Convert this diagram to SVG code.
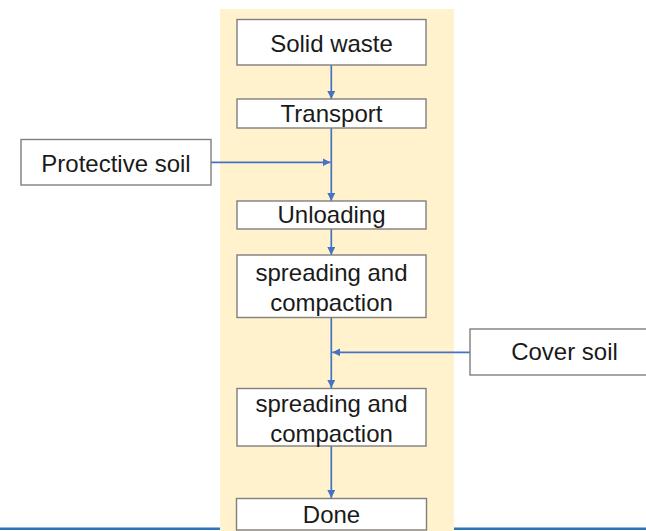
<svg xmlns="http://www.w3.org/2000/svg" width="646" height="531" viewBox="0 0 646 531">
<style>
.box{fill:#ffffff;stroke:#7f7f7f;stroke-width:1.4}
.t{font-family:"Liberation Sans",Arial,sans-serif;font-size:24px;fill:#1a1a1a;text-anchor:middle}
.c{stroke:#4472c4;stroke-width:1.7;fill:none;marker-end:url(#ah)}
</style>
<defs>
<marker id="ah" viewBox="0 0 10 10" refX="10" refY="5" markerWidth="8" markerHeight="8" markerUnits="userSpaceOnUse" orient="auto">
<path d="M0,0 L10,5 L0,10 Z" fill="#4472c4"/>
</marker>
</defs>
<rect x="0" y="527.5" width="646" height="2.5" fill="#2e75b6"/>
<rect x="220" y="9" width="234" height="522" fill="#fff2cc"/>
<g id="connectors">
<line class="c" x1="331.3" y1="65" x2="331.3" y2="99"/>
<line class="c" x1="331.3" y1="128" x2="331.3" y2="201"/>
<line class="c" x1="211" y1="162.3" x2="330.5" y2="162.3"/>
<line class="c" x1="331.3" y1="229" x2="331.3" y2="255"/>
<line class="c" x1="331.3" y1="317.5" x2="331.3" y2="388"/>
<line class="c" x1="470" y1="352.3" x2="332.3" y2="352.3"/>
<line class="c" x1="331.3" y1="446" x2="331.3" y2="498"/>
</g>
<g id="solid-waste"><rect class="box" x="237" y="19.5" width="189" height="45.5"/><text class="t" x="331.5" y="52">Solid waste</text></g>
<g id="transport"><rect class="box" x="237" y="99" width="189" height="29"/><text class="t" x="331.5" y="121.5">Transport</text></g>
<g id="protective-soil"><rect class="box" x="21" y="139.5" width="190" height="45.5"/><text class="t" x="116" y="171.5">Protective soil</text></g>
<g id="unloading"><rect class="box" x="237" y="201" width="189" height="28"/><text class="t" x="331.5" y="223">Unloading</text></g>
<g id="spreading-1"><rect class="box" x="237" y="255" width="189" height="62.5"/><text class="t" x="331.5" y="280.5">spreading and</text><text class="t" x="331.5" y="310.5">compaction</text></g>
<g id="cover-soil"><rect class="box" x="470" y="329" width="189" height="46"/><text class="t" x="564.5" y="360">Cover soil</text></g>
<g id="spreading-2"><rect class="box" x="237" y="388.5" width="189" height="57.5"/><text class="t" x="331.5" y="411.5">spreading and</text><text class="t" x="331.5" y="441.5">compaction</text></g>
<g id="done"><rect class="box" x="236.5" y="498.5" width="190" height="31.5"/><text class="t" x="331.5" y="523">Done</text></g>
</svg>
